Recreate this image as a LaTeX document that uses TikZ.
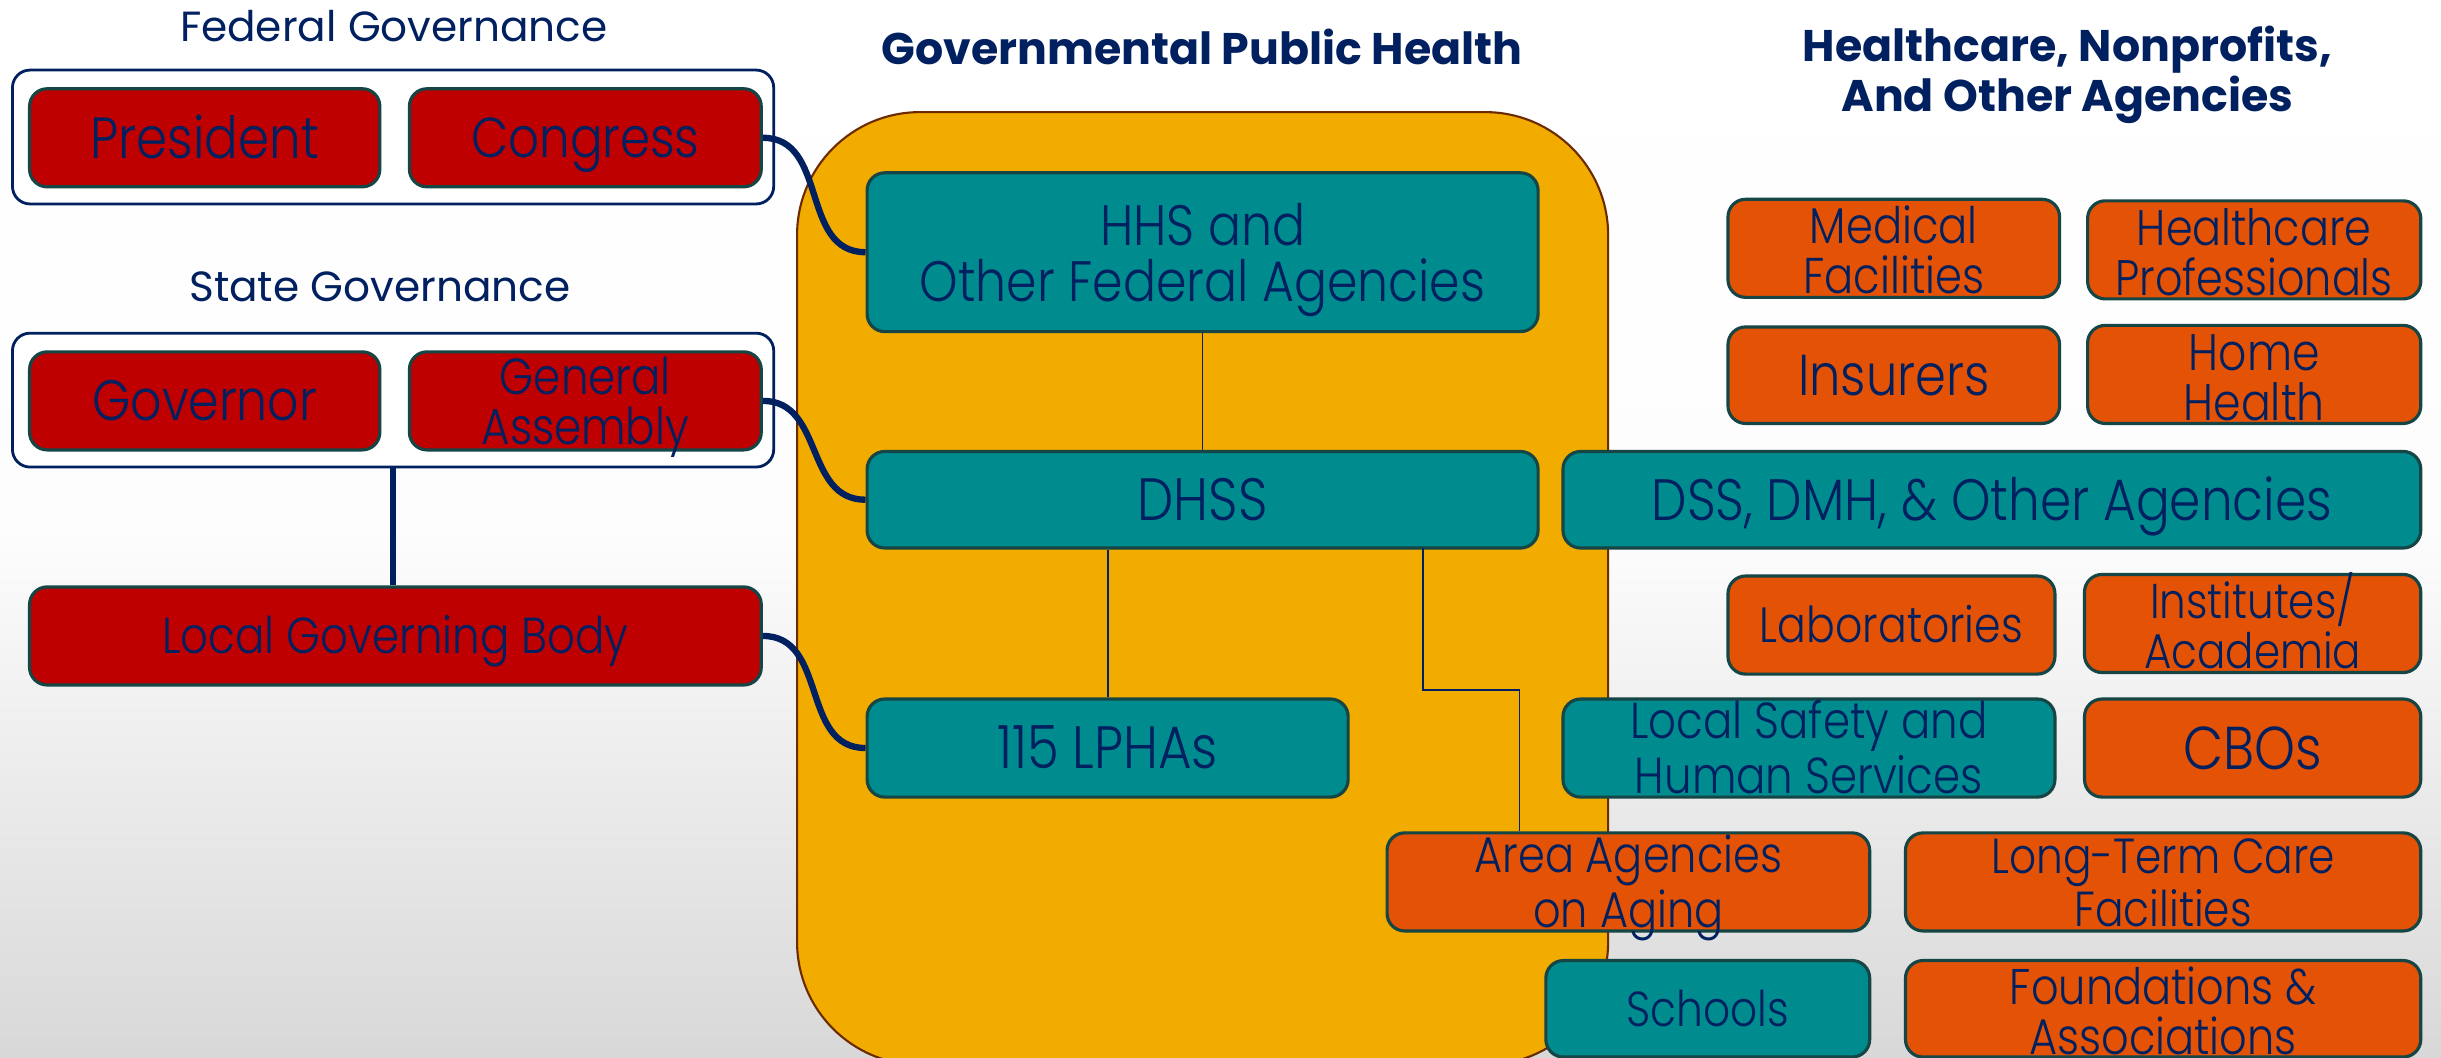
\documentclass[tikz,border=0pt]{standalone}
\usepackage{fontspec}
\setmainfont{Poppins}
\newfontfamily\boxfont[FakeStretch=0.86]{Poppins Light}
\newfontfamily\titlefont{Poppins}
\usetikzlibrary{positioning}
\definecolor{cNavy}{HTML}{002060}
\definecolor{cRed}{HTML}{BE0000}
\definecolor{cTeal}{HTML}{008B8F}
\definecolor{cOrange}{HTML}{E35205}
\definecolor{cYellow}{HTML}{F2AC00}
\definecolor{cEdge}{HTML}{154545}
\definecolor{cBrown}{HTML}{6B2A00}
\definecolor{cBgBot}{HTML}{D8D8D8}
\def\ux{0.015568cm}
\newcommand\mkbox[7]{\node[#2, minimum width={(#5-#3)*\ux}, minimum height={(#6-#4)*\ux}] (#1) at ({(#3+#5)/2},{(#4+#6)/2}) {#7};}
\tikzset{
  basebox/.style={draw=cEdge, line width=0.9pt, rounded corners=5pt, text=cNavy, inner sep=0pt, align=center},
  redbox/.style={basebox, fill=cRed},
  tealbox/.style={basebox, fill=cTeal},
  orangebox/.style={basebox, fill=cOrange},
  groupbox/.style={draw=cNavy, line width=0.8pt, rounded corners=5pt, fill=white, inner sep=0pt},
  heading/.style={text=cNavy, font=\titlefont\fontsize{12}{13}\selectfont, align=center},
  boldhead/.style={text=cNavy, font=\titlefont\bfseries\fontsize{12.6}{14.2}\selectfont, align=center},
  thickcon/.style={draw=cNavy, line width=1.8pt},
  thincon/.style={draw=cNavy, line width=0.5pt},
  sz/.style={font=\boxfont\fontsize{#1}{18}\selectfont, text height={0.7*#1pt}, text depth=0pt},
  mlsz/.style={font=\boxfont\fontsize{#1}{14.2}\selectfont, text height={15.8pt+0.7*#1pt}, text depth=0pt},
}
\begin{document}
\begin{tikzpicture}[x=\ux, y=-\ux]
\useasboundingbox (0,0) rectangle (1568,679);
\clip (0,0) rectangle (1568,679);
\shade[top color=white, bottom color=cBgBot, middle color=white!95!cBgBot] (0,0) rectangle (1568,679);

% headings
\node[heading] (fedh) at (253,17) {Federal Governance};
\node[heading] (stateh) at (244,184) {State Governance};
\node[boldhead] (gph) at (772,30) {Governmental Public Health};
\node[boldhead] (hch) at (1328,48) {Healthcare, Nonprofits,\\And Other Agencies};

% yellow container
\draw[fill=cYellow, draw=cBrown, line width=0.6pt, rounded corners=35pt] (512,72) rectangle (1033,684);

% group boxes
\mkbox{fed}{groupbox}{8}{45}{497}{131}{}
\mkbox{state}{groupbox}{8}{214}{497}{300}{}

% red boxes
\mkbox{pres}{redbox, sz=16.5}{19}{57}{244}{120}{President}
\mkbox{cong}{redbox, sz=16}{263}{57}{489}{120}{Congress}
\mkbox{gov}{redbox, sz=16.2}{19}{226}{244}{289}{Governor}
\mkbox{ga}{redbox, font=\boxfont\fontsize{14.4}{14.2}\selectfont, text height={14.6pt+0.7*14.4pt}, text depth=0pt}{263}{226}{489}{289}{General\\Assembly}
\mkbox{lgb}{redbox, sz=14.4}{19}{377}{489}{440}{Local Governing Body}

% teal boxes
\mkbox{hhs}{tealbox, font=\boxfont\fontsize{16.2}{16}\selectfont, text height={16pt+0.7*16.2pt+0.6pt}, text depth=0pt}{557}{111}{988}{213}{HHS and\\Other Federal Agencies}
\mkbox{dhss}{tealbox, sz=17}{557}{290}{988}{352}{DHSS}
\mkbox{lpha}{tealbox, sz=17}{557}{449}{866}{512}{115 LPHAs}
\mkbox{dss}{tealbox, sz=16.6}{1004}{290}{1555}{352}{DSS, DMH, \& Other Agencies}
\mkbox{lshs}{tealbox, mlsz=14.4}{1004}{449}{1320}{512}{Local Safety and\\Human Services}
\mkbox{sch}{tealbox, sz=14}{993}{617}{1201}{679}{Schools}

% orange boxes
\mkbox{med}{orangebox, mlsz=14.3}{1110}{128}{1323}{191}{Medical\\Facilities}
\mkbox{hcp}{orangebox, mlsz=14.2}{1341}{129}{1555}{192}{Healthcare\\Professionals}
\mkbox{ins}{orangebox, sz=16.4}{1110}{210}{1323}{272}{Insurers}
\mkbox{home}{orangebox, mlsz=14.6}{1341}{209}{1555}{272}{Home\\Health}
\mkbox{lab}{orangebox, sz=14.1}{1110}{370}{1320}{433}{Laboratories}
\mkbox{inst}{orangebox, mlsz=13.9}{1339}{369}{1555}{432}{Institutes/\\Academia}
\mkbox{cbo}{orangebox, sz=17.2}{1339}{449}{1555}{512}{CBOs}
\mkbox{aaa}{orangebox, mlsz=14.25}{891}{535}{1201}{598}{Area Agencies\\on Aging}
\mkbox{ltc}{orangebox, mlsz=14}{1224}{535}{1555}{598}{Long-Term Care\\Facilities}
\mkbox{fnd}{orangebox, mlsz=14.25}{1224}{617}{1555}{679}{Foundations \&\\Associations}

% thick connectors
\draw[thickcon] (cong.east) to[out=0, in=180, looseness=1.1] (hhs.west);
\draw[thickcon] (ga.east) to[out=0, in=180, looseness=1.1] (dhss.west);
\draw[thickcon] (lgb.east) to[out=0, in=180, looseness=1.1] (lpha.west);
\draw[thickcon, line width=1.9pt] (state.south) -- (state.south |- lgb.north);

% thin connectors
\draw[thincon] (hhs.south) -- (dhss.north);
\draw[thincon] (lpha.north |- dhss.south) -- (lpha.north);
\coordinate (dk1) at (914,352);
\coordinate (dk2) at (914,443);
\coordinate (dk3) at (976,443);
\draw[thincon] (dk1) -- (dk2) -- (dk3) -- (dk3 |- aaa.north);
\end{tikzpicture}
\end{document}
